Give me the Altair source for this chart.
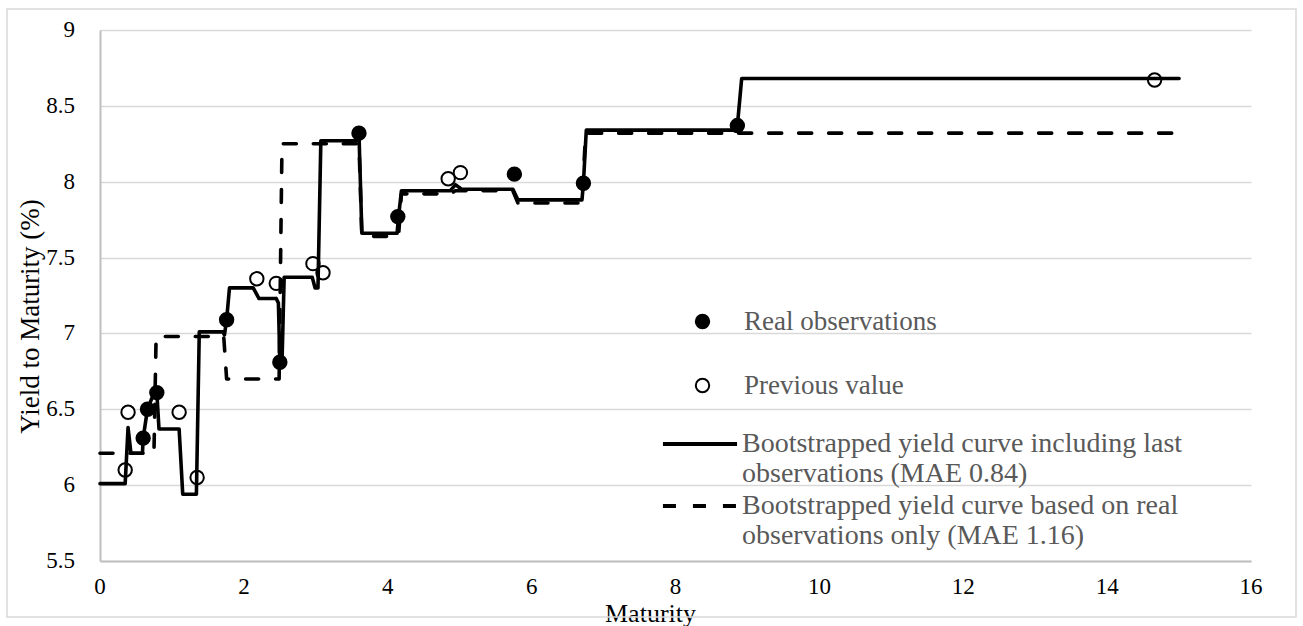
import altair as alt
import pandas as pd

# ---- data ----
solid_x = [0.00, 0.35, 0.39, 0.43, 0.59, 0.60, 0.66, 0.76, 0.79, 0.82, 1.10, 1.15, 1.34, 1.38,
           1.71, 1.73, 1.76, 1.80, 2.13, 2.21, 2.45, 2.48, 2.50, 2.53, 2.56, 2.95, 2.99, 3.03,
           3.07, 3.57, 3.60, 3.64, 4.13, 4.15, 4.19, 4.87, 4.94, 5.03, 5.74, 5.81, 6.70, 6.72,
           6.76, 8.79, 8.86, 8.92, 15.00]
solid_y = [6.01, 6.01, 6.38, 6.21, 6.21, 6.31, 6.50, 6.62, 6.61, 6.37, 6.37, 5.94, 5.94, 7.01,
           7.01, 6.99, 7.09, 7.30, 7.30, 7.23, 7.23, 7.20, 6.81, 6.81, 7.37, 7.37, 7.30, 7.30,
           8.27, 8.27, 8.32, 7.66, 7.66, 7.77, 7.94, 7.94, 7.98, 7.95, 7.95, 7.88, 7.88, 7.99,
           8.34, 8.34, 8.37, 8.68, 8.68]

dashed_x = [0.00, 0.75, 0.78, 1.72, 1.76, 2.49, 2.53, 3.60, 3.64, 4.15, 4.19, 4.87, 4.94,
            5.74, 5.81, 6.70, 6.75, 15.00]
dashed_y = [6.21, 6.21, 6.98, 6.98, 6.70, 6.70, 8.25, 8.25, 7.64, 7.64, 7.92, 7.92, 7.94,
            7.94, 7.86, 7.86, 8.32, 8.32]

real_x = [0.60, 0.66, 0.79, 1.76, 2.50, 3.60, 4.14, 5.76, 6.72, 8.86]
real_y = [6.31, 6.50, 6.61, 7.09, 6.81, 8.32, 7.77, 8.05, 7.99, 8.37]

prev_x = [0.35, 0.39, 1.10, 1.35, 2.18, 2.45, 2.96, 3.10, 4.84, 5.01, 14.66]
prev_y = [6.10, 6.48, 6.48, 6.05, 7.36, 7.33, 7.46, 7.40, 8.02, 8.06, 8.67]

x_ticks = [0, 2, 4, 6, 8, 10, 12, 14, 16]
y_ticks = [5.5, 6, 6.5, 7, 7.5, 8, 8.5, 9]

REAL = "Real observations"
PREV = "Previous value"
SOLID = "Bootstrapped yield curve including last|observations (MAE 0.84)"
DASHED = "Bootstrapped yield curve based on real|observations only (MAE 1.16)"

lines_df = pd.DataFrame({
    "maturity": solid_x + dashed_x,
    "ytm": solid_y + dashed_y,
    "series": [SOLID] * len(solid_x) + [DASHED] * len(dashed_x),
    "order": list(range(len(solid_x))) + list(range(len(dashed_x))),
})
points_df = pd.DataFrame({
    "maturity": real_x + prev_x,
    "ytm": real_y + prev_y,
    "kind": [REAL] * len(real_x) + [PREV] * len(prev_x),
})
xtick_df = pd.DataFrame({"maturity": x_ticks})
ytick_df = pd.DataFrame({"ytm": y_ticks})

FONT = "Liberation Serif"

x_axis = alt.Axis(values=x_ticks, grid=False, ticks=False, tickSize=0, domainColor="#bfbfbf",
                  domainWidth=2, labels=False,
                  title="Maturity", titleFont=FONT, titleFontSize=26,
                  titleFontWeight="normal", titleColor="#000000", titleX=550, titleY=60,
                  titleBaseline="alphabetic", titleAlign="center")
y_axis = alt.Axis(values=y_ticks, grid=True, gridColor="#d9d9d9", gridWidth=1.4, ticks=False,
                  tickSize=0, domainColor="#bfbfbf", domainWidth=2, labels=False,
                  title="Yield to Maturity (%)", titleFont=FONT, titleFontSize=27,
                  titleFontWeight="normal", titleColor="#000000", titleX=-70, titleY=286,
                  titleAngle=270, titleBaseline="middle", titleAlign="center")

x_enc = alt.X("maturity:Q", scale=alt.Scale(domain=[0, 16], nice=False, zero=False), axis=x_axis)
y_enc = alt.Y("ytm:Q", scale=alt.Scale(domain=[5.5, 9], nice=False, zero=False), axis=y_axis)

points = alt.Chart(points_df).mark_point(
    filled=True, shape="circle", size=180, stroke="black", strokeWidth=2, opacity=1
).encode(
    x=x_enc,
    y=y_enc,
    fill=alt.Fill("kind:N", scale=alt.Scale(domain=[REAL, PREV], range=["#000000", "#ffffff"]),
                  legend=alt.Legend(title=None, orient="none", legendX=589, legendY=278,
                                    symbolType="circle", symbolSize=180,
                                    symbolStrokeColor="#000000", symbolStrokeWidth=2,
                                    labelFont=FONT, labelFontSize=27, labelColor="#595959",
                                    labelOffset=28, labelLimit=1000, rowPadding=36, padding=0)),
)

lines = alt.Chart(lines_df).mark_line(
    color="black", strokeWidth=3.6, strokeCap="round", strokeJoin="round"
).encode(
    x=x_enc,
    y=y_enc,
    order="order:Q",
    strokeDash=alt.StrokeDash(
        "series:N",
        scale=alt.Scale(domain=[SOLID, DASHED], range=[[1, 0], [13, 17]]),
        legend=alt.Legend(title=None, orient="none", legendX=583, legendY=397,
                          symbolType="M-2.47,0H2.47", symbolSize=900,
                          symbolStrokeColor="#000000", symbolStrokeWidth=4,
                          labelFont=FONT, labelFontSize=28, labelColor="#595959",
                          labelOffset=25, labelLimit=1000, rowPadding=1, padding=0,
                          labelExpr="split(datum.label, '|')"),
    ),
)

# tick labels (serif, drawn through the shared scales)
xtick_text = alt.Chart(xtick_df).mark_text(
    font=FONT, fontSize=23, color="#000000", baseline="top", align="center"
).encode(x=x_enc, y=alt.value(546), text=alt.Text("maturity:Q", format="~g"))

ytick_text = alt.Chart(ytick_df).mark_text(
    font=FONT, fontSize=23, color="#000000", baseline="middle", align="right"
).encode(y=y_enc, x=alt.value(-25), text=alt.Text("ytm:Q", format="~g"))

frame = alt.Chart(alt.Data(values=[{"f": 1}])).mark_rect(
    filled=False, stroke="#d9d9d9", strokeWidth=1.5
).encode(
    x=alt.value(-93), x2=alt.value(1196), y=alt.value(-21), y2=alt.value(587)
)

chart = alt.layer(frame, points, lines, xtick_text, ytick_text).properties(
    width=1151, height=531,
    autosize=alt.AutoSizeParams(type="none"),
    padding={"left": 100, "top": 30, "right": 52, "bottom": 65},
    background="white",
).configure(font=FONT).configure_axis(
    titleFont=FONT
).configure_legend(labelFont=FONT).configure_view(stroke=None)

chart.save("out.html", embed_options={"renderer": "svg", "actions": False})
